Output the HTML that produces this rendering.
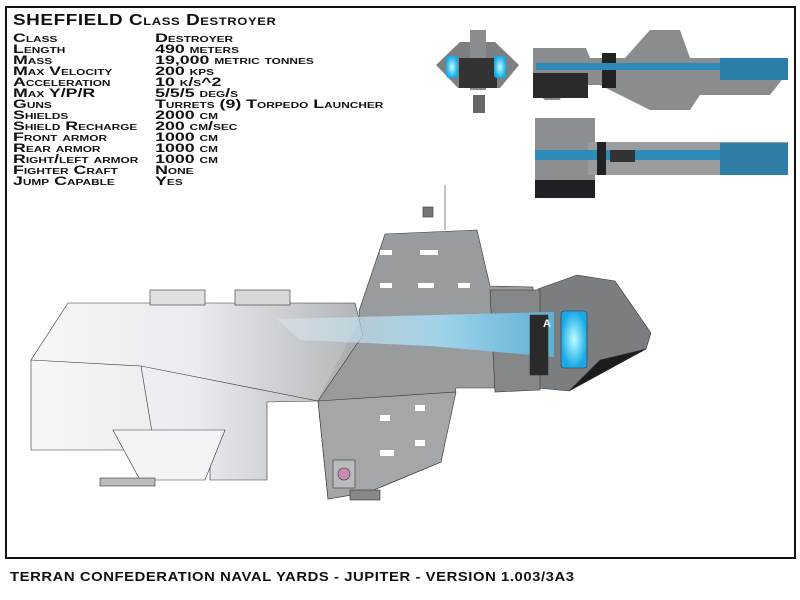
<!DOCTYPE html>
<html><head><meta charset="utf-8"><style>
body{margin:0;background:#fff;width:800px;height:600px;overflow:hidden;position:relative;font-family:"Liberation Sans",sans-serif}
.frame{position:absolute;left:5px;top:6px;width:787px;height:549px;border:2px solid #111;box-sizing:content-box}
.t{position:absolute;font-weight:bold;font-variant:small-caps;color:#111;letter-spacing:0.5px;white-space:nowrap;transform-origin:0 0}
.row{position:absolute;left:13px;font-size:12px;line-height:11px;font-weight:bold;font-variant:small-caps;white-space:nowrap;color:#111;transform:scaleX(1.48);transform-origin:0 0}
.row span{position:absolute;left:96px}
svg{position:absolute;left:0;top:0}
</style></head><body>
<div class="frame"></div>
<svg width="800" height="600" viewBox="0 0 800 600">
<defs>
<linearGradient id="hull" x1="0" x2="1" y1="0" y2="0">
<stop offset="0" stop-color="#f4f6f8"/><stop offset="0.5" stop-color="#e6eaee"/><stop offset="1" stop-color="#a9acaf"/></linearGradient>
<linearGradient id="band" x1="0" x2="1"><stop offset="0" stop-color="#e8f4fa" stop-opacity="0.3"/><stop offset="0.6" stop-color="#9ed3ea"/><stop offset="1" stop-color="#5fb0d4"/></linearGradient>
<radialGradient id="glow"><stop offset="0" stop-color="#bff"/><stop offset="1" stop-color="#1aa8e8"/></radialGradient>
</defs>
<g>
<polygon points="436,65 460,42 495,42 519,65 500,88 458,88" fill="#7d8083"/>
<rect x="470" y="30" width="16" height="60" fill="#8a8d90"/>
<rect x="459" y="58" width="38" height="30" fill="#333"/>
<rect x="446" y="56" width="12" height="22" rx="3" fill="url(#glow)"/>
<rect x="494" y="56" width="12" height="22" rx="3" fill="url(#glow)"/>
<rect x="473" y="95" width="12" height="18" fill="#666"/>
<polygon points="533,48 586,48 590,58 625,58 650,30 680,30 690,58 788,58 788,72 770,95 700,95 690,110 650,110 600,85 565,85 560,100 545,100 533,90" fill="#8a8d90"/>
<rect x="533" y="73" width="55" height="25" fill="#2a2a2a"/>
<rect x="602" y="53" width="14" height="35" fill="#222"/>
<rect x="536" y="63" width="250" height="7" fill="#2b8ab6"/>
<rect x="720" y="58" width="68" height="22" fill="#2a7ea8"/>
<rect x="535" y="118" width="60" height="80" fill="#8c8f92"/>
<rect x="535" y="180" width="60" height="18" fill="#1e2024"/>
<rect x="588" y="142" width="200" height="33" fill="#9a9da0"/>
<rect x="535" y="150" width="252" height="10" fill="#2f8cb8"/>
<rect x="610" y="150" width="25" height="12" fill="#333"/>
<rect x="597" y="142" width="9" height="33" fill="#222"/>
<rect x="720" y="143" width="68" height="32" fill="#2f7ca4"/>
</g>
<g stroke="#333" stroke-width="0.6">
<polygon points="359,311 385,234 477,230 490,286 533,287 538,388 456,388 441,462 369,492 328,499 318,401 360,320" fill="#999c9f"/>
<polygon points="538,289 577,275 615,281 651,333 646,349 569,391 538,388" fill="#7b7e81"/>
<polygon points="600,360 646,349 569,391" fill="#1c1c1e"/>
<polygon points="490,290 540,290 540,390 495,392" fill="#858789"/>
<polygon points="68,303 355,303 363,335 318,401 267,402 267,480 210,480 210,450 31,450 31,360" fill="url(#hull)" fill-opacity="0.9"/>
<polyline points="31,360 141,366 318,401" fill="none"/>
<polyline points="141,366 155,450" fill="none"/>
<polygon points="277,319 554,312 554,357 431,346 300,340" fill="url(#band)" stroke="none"/>
<rect x="530" y="315" width="18" height="60" fill="#2a2a2a"/>
<rect x="561" y="311" width="26" height="57" rx="3" fill="url(#glow)"/>
<polygon points="318,401 456,392 441,462 369,492 328,499" fill="#a4a7aa"/>
<polygon points="113,430 225,430 205,480 140,480" fill="#f2f4f6"/>
<rect x="150" y="290" width="55" height="15" fill="#e0e0e0"/>
<rect x="235" y="290" width="55" height="15" fill="#d8d8d8"/>
<rect x="423" y="207" width="10" height="10" fill="#777"/>
<line x1="445" y1="185" x2="445" y2="230"/>
<rect x="333" y="460" width="22" height="28" fill="#bbb"/>
<circle cx="344" cy="474" r="6" fill="#d4a" fill-opacity="0.4"/>
<rect x="100" y="478" width="55" height="8" fill="#bbb"/>
<rect x="350" y="490" width="30" height="10" fill="#888"/>
</g>
<g fill="#fff">
<rect x="380" y="250" width="12" height="5"/><rect x="420" y="250" width="18" height="5"/>
<rect x="380" y="283" width="12" height="5"/><rect x="418" y="283" width="16" height="5"/><rect x="458" y="283" width="12" height="5"/>
<rect x="380" y="415" width="10" height="6"/><rect x="415" y="405" width="10" height="6"/>
<rect x="380" y="450" width="14" height="6"/><rect x="415" y="440" width="10" height="6"/>
</g>
<text x="543" y="327" font-family="Liberation Sans" font-weight="bold" font-size="11" fill="#fff">A</text>
</svg>
<div class="t" style="left:13px;top:12px;font-size:16px;transform:scaleX(1.18)">SHEFFIELD Class Destroyer</div>
<div class="row" style="top:33px">Class<span>Destroyer</span></div>
<div class="row" style="top:44px">Length<span>490 meters</span></div>
<div class="row" style="top:55px">Mass<span>19,000 metric tonnes</span></div>
<div class="row" style="top:66px">Max Velocity<span>200 kps</span></div>
<div class="row" style="top:77px">Acceleration<span>10 k/s^2</span></div>
<div class="row" style="top:88px">Max Y/P/R<span>5/5/5 deg/s</span></div>
<div class="row" style="top:99px">Guns<span>Turrets (9) Torpedo Launcher</span></div>
<div class="row" style="top:110px">Shields<span>2000 cm</span></div>
<div class="row" style="top:121px">Shield Recharge<span>200 cm/sec</span></div>
<div class="row" style="top:132px">Front armor<span>1000 cm</span></div>
<div class="row" style="top:143px">Rear armor<span>1000 cm</span></div>
<div class="row" style="top:154px">Right/left armor<span>1000 cm</span></div>
<div class="row" style="top:165px">Fighter Craft<span>None</span></div>
<div class="row" style="top:176px">Jump Capable<span>Yes</span></div>
<div class="t" style="left:10px;top:569px;font-size:13px;font-variant:normal;transform:scaleX(1.14)">TERRAN CONFEDERATION NAVAL YARDS - JUPITER - VERSION 1.003/3A3</div>
</body></html>
